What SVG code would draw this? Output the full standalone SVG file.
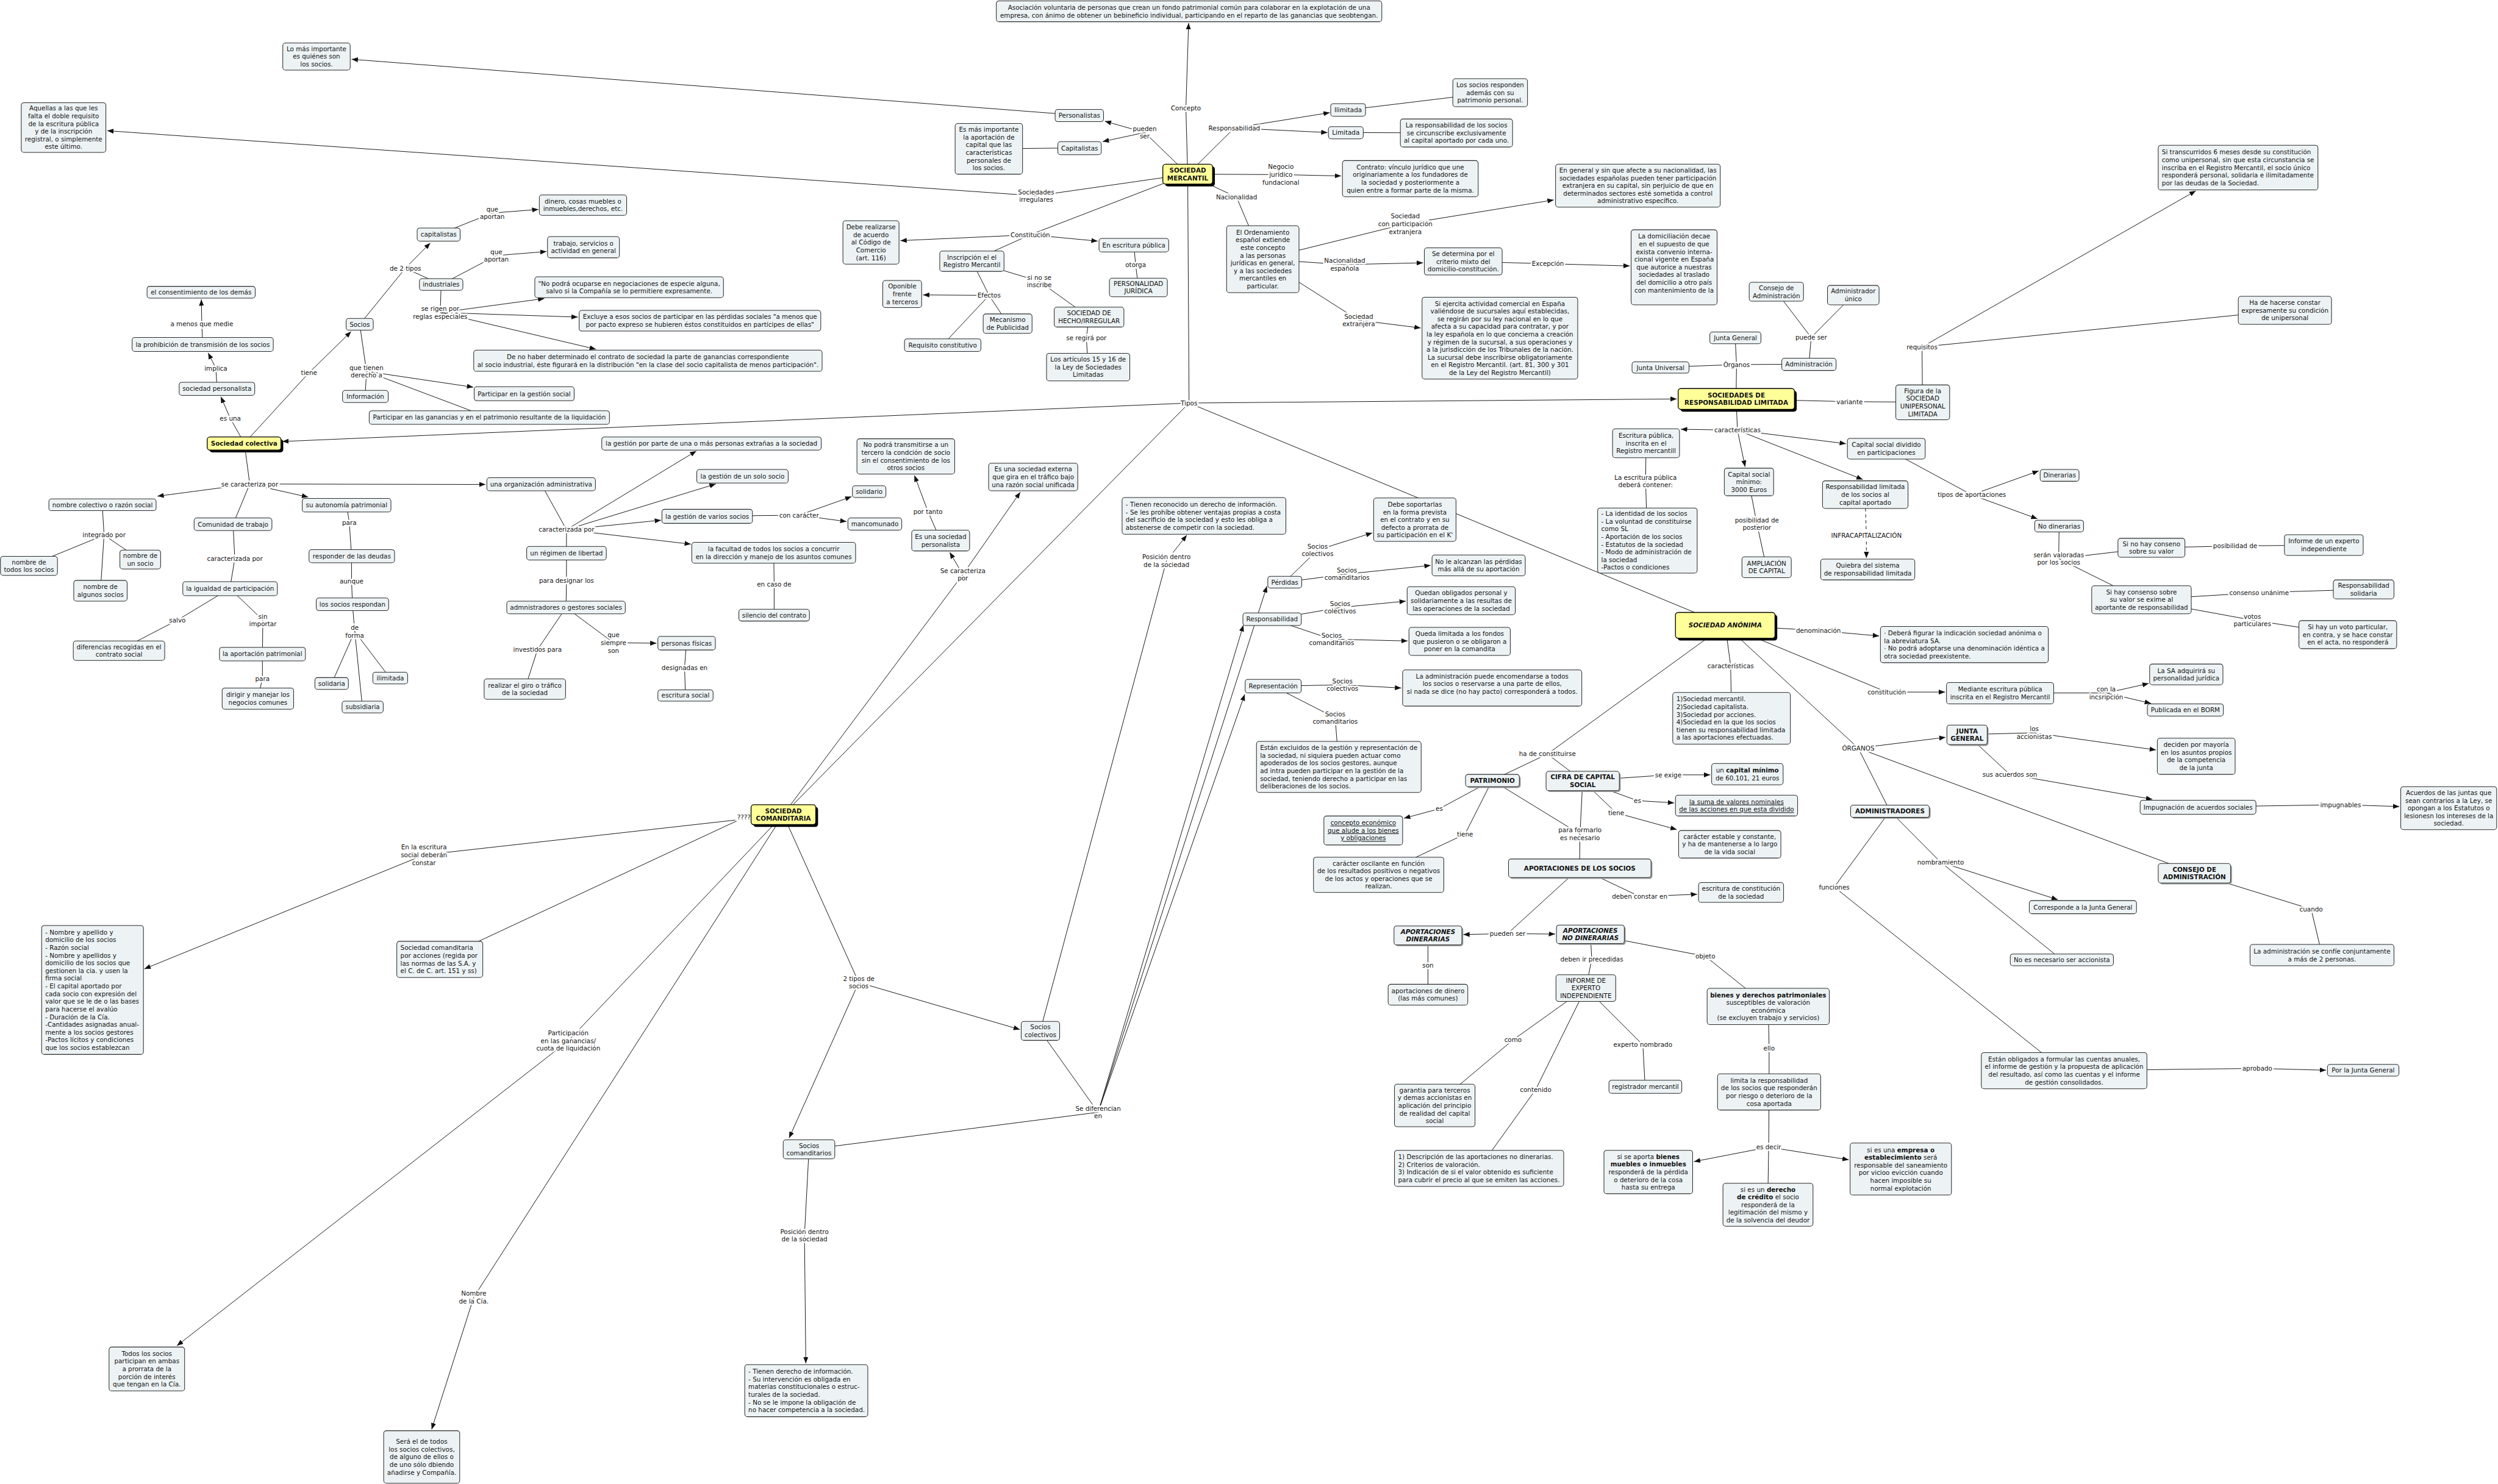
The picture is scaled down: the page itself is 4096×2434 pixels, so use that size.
<svg xmlns="http://www.w3.org/2000/svg" width="4096" height="2434" viewBox="0 0 4096 2434">
<defs>
<marker id="ar" viewBox="0 0 14 11" refX="14" refY="5.5" markerWidth="14" markerHeight="11" markerUnits="userSpaceOnUse" orient="auto"><path d="M0,0 L14,5.5 L0,11 z" fill="#111"/></marker>
<style>
.n{fill:#edf3f5;stroke:#2b2b2b;stroke-width:1.4}
.y{fill:#ffff99;stroke:#000;stroke-width:1.8}
.sh{fill:#000}
.sh2{fill:#9a9a9a}
text{font-family:"DejaVu Sans",Verdana,sans-serif;font-size:14px;fill:#111}
.c{text-anchor:middle}
.l{text-anchor:start}
.b{font-weight:bold}
.bi{font-weight:bold;font-style:italic}
.u{text-decoration:underline}
.lb{text-anchor:middle;stroke:#fff;stroke-width:7;stroke-linejoin:round;paint-order:stroke}
.e{fill:none;stroke:#111;stroke-width:1.3}
.a{fill:none;stroke:#111;stroke-width:1.3;marker-end:url(#ar)}
.d{fill:none;stroke:#111;stroke-width:1.3;stroke-dasharray:7 6}
.da{fill:none;stroke:#111;stroke-width:1.3;stroke-dasharray:7 6;marker-end:url(#ar)}
</style>
</defs>
<rect width="4096" height="2434" fill="#fff"/>
<g transform="scale(0.7419)">
<g id="connectors">
<path class="e" d="M540,980 L509,925"/><path class="a" d="M509,925 L488,877"/>
<path class="e" d="M480,860 L477,814"/><path class="a" d="M477,814 L460,780"/>
<path class="e" d="M448,761 L446,716"/><path class="a" d="M446,716 L445,662"/>
<path class="e" d="M540,980 L683,824"/><path class="a" d="M683,824 L776,733"/>
<path class="e" d="M795,717 L896,593 L975,629"/><path class="a" d="M896,593 L951,537"/>
<path class="e" d="M970,518 L1088,471"/><path class="a" d="M1088,471 L1190,463"/>
<path class="e" d="M975,629 L1097,565"/><path class="a" d="M1097,565 L1208,556"/>
<path class="e" d="M975,629 L973,691"/><path class="a" d="M973,691 L1203,660"/><path class="a" d="M973,691 L1277,701"/><path class="a" d="M973,691 L1317,772"/>
<path class="e" d="M795,717 L810,821 L1081,923"/><path class="e" d="M810,821 L807,876"/><path class="a" d="M810,821 L1046,856"/>
<path class="a" d="M2628,891 L624,976"/>
<path class="e" d="M540,980 L552,1070 L515,1159"/><path class="a" d="M552,1070 L1073,1071"/><path class="a" d="M552,1070 L348,1097"/><path class="a" d="M552,1070 L681,1099"/>
<path class="e" d="M226,1116 L230,1183 L64,1251 M230,1183 L310,1237 M230,1183 L222,1306"/>
<path class="e" d="M515,1159 L519,1235 L508,1301"/>
<path class="e" d="M508,1301 L392,1371 L263,1438"/>
<path class="e" d="M508,1301 L581,1371 L580,1446"/>
<path class="e" d="M580,1446 L580,1500 L570,1544"/>
<path class="e" d="M766,1117 L772,1155 L777,1229"/>
<path class="e" d="M777,1229 L777,1285 L779,1336"/>
<path class="e" d="M779,1336 L784,1396 L733,1511 M784,1396 L862,1499 M784,1396 L801,1563"/>
<path class="e" d="M1196,1070 L1252,1171 L1252,1223"/><path class="a" d="M1252,1171 L1539,997"/><path class="a" d="M1252,1171 L1582,1070"/><path class="a" d="M1252,1171 L1461,1150"/><path class="a" d="M1252,1171 L1527,1203"/>
<path class="e" d="M1252,1223 L1252,1283 L1251,1343"/>
<path class="e" d="M1251,1343 L1188,1436 L1160,1523"/>
<path class="e" d="M1251,1343 L1356,1421"/><path class="a" d="M1356,1421 L1451,1422"/>
<path class="e" d="M1517,1422 L1513,1476 L1515,1537"/>
<path class="e" d="M1563,1141 L1766,1139"/><path class="a" d="M1766,1139 L1882,1098"/><path class="a" d="M1766,1139 L1871,1153"/>
<path class="e" d="M1710,1222 L1711,1291 L1711,1360"/>
<path class="e" d="M2628,891 L1731,1801"/>
<path class="e" d="M1731,1801 L2128,1270"/><path class="a" d="M2128,1270 L2099,1221"/><path class="a" d="M2128,1270 L2255,1088"/>
<path class="e" d="M2079,1195 L2051,1131"/><path class="a" d="M2051,1131 L2021,1051"/>
<path class="e" d="M1625,1813 L937,1890"/><path class="a" d="M937,1890 L319,2142"/>
<path class="e" d="M1628,1815 L972,2121"/>
<path class="e" d="M1731,1801 L1256,2301"/><path class="a" d="M1256,2301 L391,2975"/>
<path class="e" d="M1731,1801 L1047,2868"/><path class="a" d="M1047,2868 L954,3160"/>
<path class="e" d="M1731,1801 L1898,2172"/><path class="a" d="M1898,2172 L2254,2276"/><path class="a" d="M1898,2172 L1744,2516"/>
<path class="e" d="M2299,2279 L2578,1240"/><path class="a" d="M2578,1240 L2623,1183"/>
<path class="e" d="M2299,2279 L2427,2459 L1788,2541"/><path class="a" d="M2427,2459 L2800,1296"/><path class="a" d="M2427,2459 L2748,1382"/><path class="a" d="M2427,2459 L2751,1535"/>
<path class="e" d="M1788,2541 L1778,2731"/><path class="a" d="M1778,2731 L1781,3014"/>
<path class="e" d="M2625,385 L2621,239"/><path class="a" d="M2621,239 L2627,51"/>
<path class="e" d="M2625,385 L2530,293"/><path class="a" d="M2530,293 L2442,268"/><path class="a" d="M2530,293 L2437,313"/>
<path class="a" d="M2385,255 L777,131"/>
<path class="e" d="M2185,329 L2386,327"/>
<path class="e" d="M2625,385 L2290,433"/><path class="a" d="M2290,433 L237,289"/>
<path class="e" d="M2625,385 L2728,283"/><path class="a" d="M2728,283 L2939,249"/><path class="a" d="M2728,283 L2934,293"/>
<path class="e" d="M2979,243 L3293,205 M2974,293 L3219,294"/>
<path class="e" d="M2625,385 L2831,386"/><path class="a" d="M2831,386 L2964,389"/>
<path class="e" d="M2625,385 L2733,436 L2791,573"/>
<path class="e" d="M2791,573 L3106,495"/><path class="a" d="M3106,495 L3434,442"/>
<path class="e" d="M2791,573 L2972,585"/><path class="a" d="M2972,585 L3145,581"/>
<path class="e" d="M3234,578 L3421,583"/><path class="a" d="M3421,583 L3602,588"/>
<path class="e" d="M2791,573 L3003,708"/><path class="a" d="M3003,708 L3140,725"/>
<path class="e" d="M2625,385 L2277,519 L2148,577"/><path class="a" d="M2277,519 L1990,532"/><path class="a" d="M2277,519 L2426,533"/>
<path class="e" d="M2506,542 L2510,586 L2516,635"/>
<path class="e" d="M2148,577 L2297,622 L2407,701"/>
<path class="e" d="M2407,701 L2401,747 L2405,811"/>
<path class="e" d="M2148,577 L2186,653 L2227,715 M2186,653 L2083,763"/><path class="a" d="M2186,653 L2040,652"/>
<path class="e" d="M2625,385 L2628,891"/>
<path class="a" d="M2628,891 L3706,882"/>
<path class="e" d="M2628,891 L3813,1382"/>
<path class="e" d="M3837,882 L3838,806 L3835,747 M3838,806 L3670,812 M3838,806 L3998,805"/>
<path class="e" d="M3998,805 L4003,746 L3926,645 M4003,746 L4096,652"/>
<path class="e" d="M3837,882 L4088,888 L4249,889"/>
<path class="e" d="M4249,889 L4248,767 L5050,686"/><path class="a" d="M4248,767 L4853,422"/>
<path class="e" d="M3837,882 L3840,951"/><path class="a" d="M3840,951 L3715,949"/><path class="a" d="M3840,951 L3857,1032"/><path class="a" d="M3840,951 L4080,981"/><path class="a" d="M3840,951 L4117,1060"/>
<path class="e" d="M3638,980 L3637,1064 L3641,1195"/>
<path class="e" d="M3865,1065 L3883,1158 L3904,1254"/>
<path class="d" d="M4123,1124 L4125,1184"/><path class="da" d="M4125,1184 L4125,1234"/>
<path class="e" d="M4169,992 L4358,1094"/><path class="a" d="M4358,1094 L4506,1041"/><path class="a" d="M4358,1094 L4503,1147"/>
<path class="e" d="M4551,1163 L4550,1235 L4755,1211 M4550,1235 L4733,1326"/>
<path class="e" d="M4755,1211 L4940,1207 L5136,1205"/>
<path class="e" d="M4733,1326 L4993,1310 L5224,1303"/>
<path class="e" d="M4733,1326 L4978,1371 L5189,1403"/>
<path class="e" d="M3813,1382 L4019,1394"/><path class="a" d="M4019,1394 L4153,1406"/>
<path class="e" d="M3813,1382 L4170,1530"/><path class="a" d="M4170,1530 L4299,1530"/>
<path class="e" d="M4420,1532 L4655,1532"/><path class="a" d="M4655,1532 L4749,1511"/><path class="a" d="M4655,1532 L4754,1555"/>
<path class="e" d="M3813,1382 L3825,1472 L3827,1588"/>
<path class="e" d="M3813,1382 L3420,1667 L3298,1725 M3420,1667 L3498,1726"/>
<path class="e" d="M3498,1726 L3687,1713"/><path class="a" d="M3687,1713 L3780,1713"/>
<path class="e" d="M3498,1726 L3619,1770"/><path class="a" d="M3619,1770 L3700,1775"/>
<path class="e" d="M3498,1726 L3572,1797"/><path class="a" d="M3572,1797 L3706,1834"/>
<path class="e" d="M3298,1725 L3181,1788"/><path class="a" d="M3181,1788 L3103,1809"/>
<path class="e" d="M3298,1725 L3238,1844 L3047,1934"/>
<path class="e" d="M3298,1725 L3492,1844 M3498,1726 L3492,1844 L3491,1919"/>
<path class="e" d="M3491,1919 L3624,1982"/><path class="a" d="M3624,1982 L3751,1977"/>
<path class="e" d="M3491,1919 L3332,2064"/><path class="a" d="M3332,2064 L3234,2066"/><path class="a" d="M3332,2064 L3437,2065"/>
<path class="e" d="M3156,2068 L3156,2134 L3156,2199"/>
<path class="e" d="M3515,2065 L3518,2121 L3505,2184"/>
<path class="e" d="M3515,2065 L3769,2114 L3908,2225"/>
<path class="e" d="M3908,2225 L3910,2318 L3910,2414"/>
<path class="e" d="M3910,2414 L3909,2536 L3907,2663"/><path class="a" d="M3909,2536 L3744,2568"/><path class="a" d="M3909,2536 L4086,2564"/>
<path class="e" d="M3505,2184 L3344,2299 L3171,2444"/>
<path class="e" d="M3505,2184 L3394,2409 L3269,2583"/>
<path class="e" d="M3505,2184 L3631,2310 L3636,2402"/>
<path class="e" d="M3813,1382 L4107,1654 L4177,1793 M4107,1654 L4850,1930"/><path class="a" d="M4107,1654 L4300,1630"/>
<path class="e" d="M4347,1624 L4496,1620"/><path class="a" d="M4496,1620 L4765,1658"/>
<path class="e" d="M4347,1624 L4442,1712"/><path class="a" d="M4442,1712 L4757,1767"/>
<path class="e" d="M4858,1784 L5173,1779"/><path class="a" d="M5173,1779 L5303,1783"/>
<path class="e" d="M4850,1930 L5108,2010 L5132,2111"/>
<path class="e" d="M4177,1793 L4289,1906 L4557,2122"/><path class="a" d="M4289,1906 L4548,1989"/>
<path class="e" d="M4177,1793 L4054,1961 L4562,2367"/>
<path class="e" d="M4562,2367 L4989,2362"/><path class="a" d="M4989,2362 L5141,2366"/>
<path class="e" d="M2839,1287 L2912,1216"/><path class="a" d="M2912,1216 L3033,1178"/>
<path class="e" d="M2839,1287 L2977,1269"/><path class="a" d="M2977,1269 L3162,1250"/>
<path class="e" d="M2811,1369 L2962,1343"/><path class="a" d="M2962,1343 L3107,1329"/>
<path class="e" d="M2811,1369 L2943,1413"/><path class="a" d="M2943,1413 L3111,1417"/>
<path class="e" d="M2814,1517 L2967,1514"/><path class="a" d="M2967,1514 L3097,1521"/>
<path class="e" d="M2814,1517 L2951,1587 L2959,1695"/>

<text class="lb" x="1088" y="467.5"><tspan x="1088">que</tspan><tspan x="1088" dy="17">aportan</tspan></text>
<text class="lb" x="1097" y="561.5"><tspan x="1097">que</tspan><tspan x="1097" dy="17">aportan</tspan></text>
<text class="lb" x="896" y="598">de 2 tipos</text>
<text class="lb" x="446" y="721">a menos que medie</text>
<text class="lb" x="477" y="819">implica</text>
<text class="lb" x="509" y="930">es una</text>
<text class="lb" x="683" y="829">tiene</text>
<text class="lb" x="973" y="687.5"><tspan x="973">se rigen por</tspan><tspan x="973" dy="17">reglas especiales</tspan></text>
<text class="lb" x="810" y="817.5"><tspan x="810">que tienen</tspan><tspan x="810" dy="17">derecho a</tspan></text>
<text class="lb" x="552" y="1075">se caracteriza por</text>
<text class="lb" x="230" y="1188">integrado por</text>
<text class="lb" x="519" y="1240">caracterizada por</text>
<text class="lb" x="392" y="1376">salvo</text>
<text class="lb" x="581" y="1367.5"><tspan x="581">sin</tspan><tspan x="581" dy="17">importar</tspan></text>
<text class="lb" x="580" y="1505">para</text>
<text class="lb" x="772" y="1160">para</text>
<text class="lb" x="777" y="1290">aunque</text>
<text class="lb" x="784" y="1392.5"><tspan x="784">de</tspan><tspan x="784" dy="17">forma</tspan></text>
<text class="lb" x="1252" y="1176">caracterizada por</text>
<text class="lb" x="1252" y="1288">para designar los</text>
<text class="lb" x="1188" y="1441">investidos para</text>
<text class="lb" x="1356" y="1409"><tspan x="1356">que</tspan><tspan x="1356" dy="17">siempre</tspan><tspan x="1356" dy="17">son</tspan></text>
<text class="lb" x="937" y="1878"><tspan x="937">En la escritura</tspan><tspan x="937" dy="17">social deberán</tspan><tspan x="937" dy="17">constar</tspan></text>
<text class="lb" x="1256" y="2289"><tspan x="1256">Participación</tspan><tspan x="1256" dy="17">en las ganancias/</tspan><tspan x="1256" dy="17">cuota de liquidación</tspan></text>
<text class="lb" x="1047" y="2864.5"><tspan x="1047">Nombre</tspan><tspan x="1047" dy="17">de la Cía.</tspan></text>
<text class="lb" x="2621" y="244">Concepto</text>
<text class="lb" x="2530" y="289.5"><tspan x="2530">pueden</tspan><tspan x="2530" dy="17">ser</tspan></text>
<text class="lb" x="2290" y="429.5"><tspan x="2290">Sociedades</tspan><tspan x="2290" dy="17">irregulares</tspan></text>
<text class="lb" x="2733" y="441">Nacionalidad</text>
<text class="lb" x="2728" y="288">Responsabilidad</text>
<text class="lb" x="2277" y="524">Constitución</text>
<text class="lb" x="2510" y="591">otorga</text>
<text class="lb" x="2297" y="618.5"><tspan x="2297">si no se</tspan><tspan x="2297" dy="17">inscribe</tspan></text>
<text class="lb" x="2401" y="752">se regirá por</text>
<text class="lb" x="2186" y="658">Efectos</text>
<text class="lb" x="2628" y="896">Tipos</text>
<text class="lb" x="1766" y="1144">con carácter</text>
<text class="lb" x="1711" y="1296">en caso de</text>
<text class="lb" x="1513" y="1481">designadas en</text>
<text class="lb" x="2051" y="1136">por tanto</text>
<text class="lb" x="2128" y="1266.5"><tspan x="2128">Se caracteriza</tspan><tspan x="2128" dy="17">por</tspan></text>
<text class="lb" x="1644" y="1811">????</text>
<text class="lb" x="2578" y="1236.5"><tspan x="2578">Posición dentro</tspan><tspan x="2578" dy="17">de la sociedad</tspan></text>
<text class="lb" x="1898" y="2168.5"><tspan x="1898">2 tipos de</tspan><tspan x="1898" dy="17">socios</tspan></text>
<text class="lb" x="2427" y="2455.5"><tspan x="2427">Se diferencian</tspan><tspan x="2427" dy="17">en</tspan></text>
<text class="lb" x="1778" y="2727.5"><tspan x="1778">Posición dentro</tspan><tspan x="1778" dy="17">de la sociedad</tspan></text>
<text class="lb" x="2831" y="374"><tspan x="2831">Negocio</tspan><tspan x="2831" dy="17">jurídico</tspan><tspan x="2831" dy="17">fundacional</tspan></text>
<text class="lb" x="3106" y="483"><tspan x="3106">Sociedad</tspan><tspan x="3106" dy="17">con participación</tspan><tspan x="3106" dy="17">extranjera</tspan></text>
<text class="lb" x="2972" y="581.5"><tspan x="2972">Nacionalidad</tspan><tspan x="2972" dy="17">española</tspan></text>
<text class="lb" x="3421" y="588">Excepción</text>
<text class="lb" x="3003" y="704.5"><tspan x="3003">Sociedad</tspan><tspan x="3003" dy="17">extranjera</tspan></text>
<text class="lb" x="4003" y="751">puede ser</text>
<text class="lb" x="3838" y="811">Órganos</text>
<text class="lb" x="4088" y="893">variante</text>
<text class="lb" x="3840" y="956">características</text>
<text class="lb" x="3637" y="1060.5"><tspan x="3637">La escritura pública</tspan><tspan x="3637" dy="17">deberá contener:</tspan></text>
<text class="lb" x="3883" y="1154.5"><tspan x="3883">posibilidad de</tspan><tspan x="3883" dy="17">posterior</tspan></text>
<text class="lb" x="4248" y="772">requisitos</text>
<text class="lb" x="4358" y="1099">tipos de aportaciones</text>
<text class="lb" x="4550" y="1231.5"><tspan x="4550">serán valoradas</tspan><tspan x="4550" dy="17">por los socios</tspan></text>
<text class="lb" x="4940" y="1212">posibilidad de</text>
<text class="lb" x="4993" y="1315">consenso unánime</text>
<text class="lb" x="4978" y="1367.5"><tspan x="4978">votos</tspan><tspan x="4978" dy="17">particulares</tspan></text>
<text class="lb" x="4125" y="1189">INFRACAPITALIZACIÓN</text>
<text class="lb" x="4019" y="1399">denominación</text>
<text class="lb" x="4170" y="1535">constitución</text>
<text class="lb" x="4655" y="1528.5"><tspan x="4655">con la</tspan><tspan x="4655" dy="17">incsripción</tspan></text>
<text class="lb" x="4107" y="1659">ÓRGANOS</text>
<text class="lb" x="4496" y="1616.5"><tspan x="4496">los</tspan><tspan x="4496" dy="17">accionistas</tspan></text>
<text class="lb" x="4442" y="1717">sus acuerdos son</text>
<text class="lb" x="5173" y="1784">impugnables</text>
<text class="lb" x="5108" y="2015">cuando</text>
<text class="lb" x="4289" y="1911">nombramiento</text>
<text class="lb" x="4054" y="1966">funciones</text>
<text class="lb" x="4989" y="2367">aprobado</text>
<text class="lb" x="2912" y="1212.5"><tspan x="2912">Socios</tspan><tspan x="2912" dy="17">colectivos</tspan></text>
<text class="lb" x="2977" y="1265.5"><tspan x="2977">Socios</tspan><tspan x="2977" dy="17">comanditarios</tspan></text>
<text class="lb" x="2962" y="1339.5"><tspan x="2962">Socios</tspan><tspan x="2962" dy="17">colectivos</tspan></text>
<text class="lb" x="2943" y="1409.5"><tspan x="2943">Socios</tspan><tspan x="2943" dy="17">comanditarios</tspan></text>
<text class="lb" x="2967" y="1510.5"><tspan x="2967">Socios</tspan><tspan x="2967" dy="17">colectivos</tspan></text>
<text class="lb" x="2951" y="1583.5"><tspan x="2951">Socios</tspan><tspan x="2951" dy="17">comanditarios</tspan></text>
<text class="lb" x="3825" y="1477">características</text>
<text class="lb" x="3420" y="1672">ha de constituirse</text>
<text class="lb" x="3687" y="1718">se exige</text>
<text class="lb" x="3619" y="1775">es</text>
<text class="lb" x="3572" y="1802">tiene</text>
<text class="lb" x="3181" y="1793">es</text>
<text class="lb" x="3238" y="1849">tiene</text>
<text class="lb" x="3492" y="1840.5"><tspan x="3492">para formarlo</tspan><tspan x="3492" dy="17">es necesario</tspan></text>
<text class="lb" x="3624" y="1987">deben constar en</text>
<text class="lb" x="3332" y="2069">pueden ser</text>
<text class="lb" x="3156" y="2139">son</text>
<text class="lb" x="3518" y="2126">deben ir precedidas</text>
<text class="lb" x="3769" y="2119">objeto</text>
<text class="lb" x="3910" y="2323">ello</text>
<text class="lb" x="3909" y="2541">es decir</text>
<text class="lb" x="3344" y="2304">como</text>
<text class="lb" x="3394" y="2414">contenido</text>
<text class="lb" x="3631" y="2315">experto nombrado</text>
</g>

<g id="n1"><rect class="n" x="625" y="95" width="149" height="60" rx="6"/><text class="c" x="699.5" y="113"><tspan x="699.5">Lo más importante</tspan><tspan x="699.5" dy="17">es quiénes son</tspan><tspan x="699.5" dy="17">los socios.</tspan></text></g>
<g id="n2"><rect class="n" x="47" y="227" width="187" height="110" rx="6"/><text class="c" x="140.5" y="244.5"><tspan x="140.5">Aquellas a las que les</tspan><tspan x="140.5" dy="17">falta el doble requisito</tspan><tspan x="140.5" dy="17">de la escritura pública</tspan><tspan x="140.5" dy="17">y de la inscripción</tspan><tspan x="140.5" dy="17">registral, o simplemente</tspan><tspan x="140.5" dy="17">este último.</tspan></text></g>
<g id="n3"><rect class="n" x="1192" y="431" width="193" height="45" rx="6"/><text class="c" x="1288.5" y="450"><tspan x="1288.5">dinero, cosas muebles o</tspan><tspan x="1288.5" dy="17">inmuebles,derechos, etc.</tspan></text></g>
<g id="n4"><rect class="n" x="922" y="504" width="95" height="29" rx="6"/><text class="c" x="969.5" y="523.5">capitalistas</text></g>
<g id="n5"><rect class="n" x="1210" y="523" width="159" height="47" rx="6"/><text class="c" x="1289.5" y="543"><tspan x="1289.5">trabajo, servicios o</tspan><tspan x="1289.5" dy="17">actividad en general</tspan></text></g>
<g id="n6"><rect class="n" x="927" y="616" width="96" height="26" rx="6"/><text class="c" x="975" y="634">industriales</text></g>
<g id="n7"><rect class="n" x="325" y="633" width="239" height="26" rx="6"/><text class="c" x="444.5" y="651">el consentimiento de los demás</text></g>
<g id="n8"><rect class="n" x="292" y="746" width="312" height="31" rx="6"/><text class="c" x="448" y="766.5">la prohibición de transmisión de los socios</text></g>
<g id="n9"><rect class="n" x="396" y="845" width="167" height="29" rx="6"/><text class="c" x="479.5" y="864.5">sociedad personalista</text></g>
<g id="n10"><rect class="sh" x="463" y="971" width="163" height="29" rx="6"/><rect class="y" x="458" y="966" width="163" height="29" rx="6"/><text class="c b" x="539.5" y="985.5">Sociedad colectiva</text></g>
<g id="n11"><rect class="n" x="765" y="704" width="60" height="26" rx="6"/><text class="c" x="795" y="722">Socios</text></g>
<g id="n12"><rect class="n" x="1182" y="612" width="417" height="46" rx="6"/><text class="c" x="1390.5" y="631.5"><tspan x="1390.5">"No podrá ocuparse en negociaciones de especie alguna,</tspan><tspan x="1390.5" dy="17">salvo si la Compañía se lo permitiere expresamente.</tspan></text></g>
<g id="n13"><rect class="n" x="1280" y="686" width="534" height="46" rx="6"/><text class="c" x="1547" y="705.5"><tspan x="1547">Excluye a esos socios de participar en las pérdidas sociales "a menos que</tspan><tspan x="1547" dy="17">por pacto expreso se hubieren éstos constituidos en partícipes de ellas"</tspan></text></g>
<g id="n14"><rect class="n" x="1047" y="774" width="770" height="47" rx="6"/><text class="c" x="1432" y="794"><tspan x="1432">De no haber determinado el contrato de sociedad la parte de ganancias correspondiente</tspan><tspan x="1432" dy="17">al socio industrial, éste figurará en la distribución "en la clase del socio capitalista de menos participación".</tspan></text></g>
<g id="n15"><rect class="n" x="757" y="863" width="101" height="27" rx="6"/><text class="c" x="807.5" y="881.5">Información</text></g>
<g id="n16"><rect class="n" x="1048" y="855" width="221" height="31" rx="6"/><text class="c" x="1158.5" y="875.5">Participar en la gestión social</text></g>
<g id="n17"><rect class="n" x="816" y="908" width="531" height="30" rx="6"/><text class="c" x="1081.5" y="928">Participar en las ganancias y en el patrimonio resultante de la liquidación</text></g>
<g id="n18"><rect class="n" x="1330" y="966" width="485" height="29" rx="6"/><text class="c" x="1572.5" y="985.5">la gestión por parte de una o más personas extrañas a la sociedad</text></g>
<g id="n19"><rect class="n" x="1076" y="1056" width="240" height="29" rx="6"/><text class="c" x="1196" y="1075.5">una organización administrativa</text></g>
<g id="n20"><rect class="n" x="108" y="1103" width="237" height="26" rx="6"/><text class="c" x="226.5" y="1121">nombre colectivo o razón social</text></g>
<g id="n21"><rect class="n" x="429" y="1145" width="172" height="28" rx="6"/><text class="c" x="515" y="1164">Comunidad de trabajo</text></g>
<g id="n22"><rect class="n" x="668" y="1102" width="196" height="30" rx="6"/><text class="c" x="766" y="1122">su autonomía patrimonial</text></g>
<g id="n23"><rect class="n" x="1" y="1230" width="126" height="42" rx="6"/><text class="c" x="64" y="1247.5"><tspan x="64">nombre de</tspan><tspan x="64" dy="17">todos los socios</tspan></text></g>
<g id="n24"><rect class="n" x="265" y="1216" width="90" height="42" rx="6"/><text class="c" x="310" y="1233.5"><tspan x="310">nombre de</tspan><tspan x="310" dy="17">un socio</tspan></text></g>
<g id="n25"><rect class="n" x="163" y="1283" width="118" height="46" rx="6"/><text class="c" x="222" y="1302.5"><tspan x="222">nombre de</tspan><tspan x="222" dy="17">algunos socios</tspan></text></g>
<g id="n26"><rect class="n" x="404" y="1286" width="209" height="31" rx="6"/><text class="c" x="508.5" y="1306.5">la igualdad de participación</text></g>
<g id="n27"><rect class="n" x="162" y="1417" width="202" height="43" rx="6"/><text class="c" x="263" y="1435"><tspan x="263">diferencias recogidas en el</tspan><tspan x="263" dy="17">contrato social</tspan></text></g>
<g id="n28"><rect class="n" x="485" y="1431" width="190" height="30" rx="6"/><text class="c" x="580" y="1451">la aportación patrimonial</text></g>
<g id="n29"><rect class="n" x="491" y="1521" width="158" height="47" rx="6"/><text class="c" x="570" y="1541"><tspan x="570">dirigir y manejar los</tspan><tspan x="570" dy="17">negocios comunes</tspan></text></g>
<g id="n30"><rect class="n" x="683" y="1215" width="189" height="29" rx="6"/><text class="c" x="777.5" y="1234.5">responder de las deudas</text></g>
<g id="n31"><rect class="n" x="699" y="1322" width="160" height="28" rx="6"/><text class="c" x="779" y="1341">los socios respondan</text></g>
<g id="n32"><rect class="n" x="696" y="1498" width="74" height="26" rx="6"/><text class="c" x="733" y="1516">solidaria</text></g>
<g id="n33"><rect class="n" x="824" y="1486" width="77" height="26" rx="6"/><text class="c" x="862.5" y="1504">ilimitada</text></g>
<g id="n34"><rect class="n" x="756" y="1550" width="91" height="26" rx="6"/><text class="c" x="801.5" y="1568">subsidiaria</text></g>
<g id="n35"><rect class="n" x="1164" y="1208" width="176" height="30" rx="6"/><text class="c" x="1252" y="1228">un régimen de libertad</text></g>
<g id="n36"><rect class="n" x="1120" y="1329" width="262" height="28" rx="6"/><text class="c" x="1251" y="1348">admnistradores o gestores sociales</text></g>
<g id="n37"><rect class="n" x="1070" y="1501" width="180" height="45" rx="6"/><text class="c" x="1160" y="1520"><tspan x="1160">realizar el giro o tráfico</tspan><tspan x="1160" dy="17">de la sociedad</tspan></text></g>
<g id="n38"><rect class="n" x="92" y="2046" width="225" height="285" rx="6"/><text class="l" x="100" y="2066"><tspan x="100">- Nombre y apellido y</tspan><tspan x="100" dy="17">domicilio de los socios</tspan><tspan x="100" dy="17">- Razón social</tspan><tspan x="100" dy="17">- Nombre y apellidos y</tspan><tspan x="100" dy="17">domicilio de los socios que</tspan><tspan x="100" dy="17">gestionen la cia. y usen la</tspan><tspan x="100" dy="17">firma social</tspan><tspan x="100" dy="17">- El capital aportado por</tspan><tspan x="100" dy="17">cada socio con expresión del</tspan><tspan x="100" dy="17">valor que se le de o las bases</tspan><tspan x="100" dy="17">para hacerse el avalúo</tspan><tspan x="100" dy="17">- Duración de la Cía.</tspan><tspan x="100" dy="17">-Cantidades asignadas anual-</tspan><tspan x="100" dy="17">mente a los socios gestores</tspan><tspan x="100" dy="17">-Pactos lícitos y condiciones</tspan><tspan x="100" dy="17">que los socios establezcan</tspan></text></g>
<g id="n39"><rect class="n" x="877" y="2081" width="190" height="80" rx="6"/><text class="l" x="885" y="2100.5"><tspan x="885">Sociedad comanditaria</tspan><tspan x="885" dy="17">por acciones (regida por</tspan><tspan x="885" dy="17">las normas de las S.A. y</tspan><tspan x="885" dy="17">el C. de C. art. 151 y ss)</tspan></text></g>
<g id="n40"><rect class="n" x="241" y="2978" width="167" height="97" rx="6"/><text class="c" x="324.5" y="2997.5"><tspan x="324.5">Todos los socios</tspan><tspan x="324.5" dy="17">participan en ambas</tspan><tspan x="324.5" dy="17">a prorrata de la</tspan><tspan x="324.5" dy="17">porción de interés</tspan><tspan x="324.5" dy="17">que tengan en la Cía.</tspan></text></g>
<g id="n41"><rect class="n" x="848" y="3163" width="168" height="116" rx="6"/><text class="c" x="932" y="3192"><tspan x="932">Será el de todos</tspan><tspan x="932" dy="17">los socios colectivos,</tspan><tspan x="932" dy="17">de alguno de ellos o</tspan><tspan x="932" dy="17">de uno sólo dbiendo</tspan><tspan x="932" dy="17">añadirse y Compañía.</tspan></text></g>
<g id="n42"><rect class="n" x="2202" y="2" width="852" height="46" rx="6"/><text class="c" x="2628" y="21.5"><tspan x="2628">Asociación voluntaria de personas que crean un fondo patrimonial común para colaborar en la explotación de una</tspan><tspan x="2628" dy="17">empresa, con ánimo de obtener un bebineficio individual, participando en el reparto de las ganancias que seobtengan.</tspan></text></g>
<g id="n43"><rect class="n" x="2332" y="242" width="107" height="27" rx="6"/><text class="c" x="2385.5" y="260.5">Personalistas</text></g>
<g id="n44"><rect class="n" x="2338" y="313" width="96" height="29" rx="6"/><text class="c" x="2386" y="332.5">Capitalistas</text></g>
<g id="n45"><rect class="n" x="2111" y="273" width="149" height="112" rx="6"/><text class="c" x="2185.5" y="291.5"><tspan x="2185.5">Es más importante</tspan><tspan x="2185.5" dy="17">la aportación de</tspan><tspan x="2185.5" dy="17">capital que las</tspan><tspan x="2185.5" dy="17">características</tspan><tspan x="2185.5" dy="17">personales de</tspan><tspan x="2185.5" dy="17">los socios.</tspan></text></g>
<g id="n46"><rect class="sh" x="2575" y="368" width="110" height="44" rx="6"/><rect class="y" x="2570" y="363" width="110" height="44" rx="6"/><text class="c b" x="2625" y="381.5"><tspan x="2625">SOCIEDAD</tspan><tspan x="2625" dy="17">MERCANTIL</tspan></text></g>
<g id="n47"><rect class="n" x="1863" y="488" width="124" height="96" rx="6"/><text class="c" x="1925" y="507"><tspan x="1925">Debe realizarse</tspan><tspan x="1925" dy="17">de acuerdo</tspan><tspan x="1925" dy="17">al Código de</tspan><tspan x="1925" dy="17">Comercio</tspan><tspan x="1925" dy="17">(art. 116)</tspan></text></g>
<g id="n48"><rect class="n" x="2429" y="527" width="154" height="30" rx="6"/><text class="c" x="2506" y="547">En escritura pública</text></g>
<g id="n49"><rect class="n" x="2452" y="615" width="128" height="41" rx="6"/><text class="c" x="2516" y="632"><tspan x="2516">PERSONALIDAD</tspan><tspan x="2516" dy="17">JURÍDICA</tspan></text></g>
<g id="n50"><rect class="n" x="2077" y="555" width="142" height="45" rx="6"/><text class="c" x="2148" y="574"><tspan x="2148">Inscripción el el</tspan><tspan x="2148" dy="17">Registro Mercantil</tspan></text></g>
<g id="n51"><rect class="n" x="2330" y="679" width="154" height="44" rx="6"/><text class="c" x="2407" y="697.5"><tspan x="2407">SOCIEDAD DE</tspan><tspan x="2407" dy="17">HECHO/IRREGULAR</tspan></text></g>
<g id="n52"><rect class="n" x="2313" y="781" width="184" height="61" rx="6"/><text class="c" x="2405" y="799.5"><tspan x="2405">Los artículos 15 y 16 de</tspan><tspan x="2405" dy="17">la Ley de Sociedades</tspan><tspan x="2405" dy="17">Limitadas</tspan></text></g>
<g id="n53"><rect class="n" x="1951" y="620" width="86" height="60" rx="6"/><text class="c" x="1994" y="638"><tspan x="1994">Oponible</tspan><tspan x="1994" dy="17">frente</tspan><tspan x="1994" dy="17">a terceros</tspan></text></g>
<g id="n54"><rect class="n" x="2173" y="694" width="108" height="43" rx="6"/><text class="c" x="2227" y="712"><tspan x="2227">Mecanismo</tspan><tspan x="2227" dy="17">de Publicidad</tspan></text></g>
<g id="n55"><rect class="n" x="1999" y="749" width="169" height="28" rx="6"/><text class="c" x="2083.5" y="768">Requisito constitutivo</text></g>
<g id="n56"><rect class="n" x="1894" y="970" width="216" height="78" rx="6"/><text class="c" x="2002" y="988.5"><tspan x="2002">No podrá transmitirse a un</tspan><tspan x="2002" dy="17">tercero la condción de socio</tspan><tspan x="2002" dy="17">sin el consentimiento de los</tspan><tspan x="2002" dy="17">otros socios</tspan></text></g>
<g id="n57"><rect class="n" x="2185" y="1024" width="197" height="61" rx="6"/><text class="c" x="2283.5" y="1042.5"><tspan x="2283.5">Es una sociedad externa</tspan><tspan x="2283.5" dy="17">que gira en el tráfico bajo</tspan><tspan x="2283.5" dy="17">una razón social unificada</tspan></text></g>
<g id="n58"><rect class="n" x="1540" y="1038" width="202" height="30" rx="6"/><text class="c" x="1641" y="1058">la gestión de un solo socio</text></g>
<g id="n59"><rect class="n" x="1884" y="1074" width="74" height="26" rx="6"/><text class="c" x="1921" y="1092">solidario</text></g>
<g id="n60"><rect class="n" x="1463" y="1126" width="200" height="31" rx="6"/><text class="c" x="1563" y="1146.5">la gestión de varios socios</text></g>
<g id="n61"><rect class="n" x="1874" y="1145" width="119" height="27" rx="6"/><text class="c" x="1933.5" y="1163.5">mancomunado</text></g>
<g id="n62"><rect class="n" x="1529" y="1199" width="362" height="46" rx="6"/><text class="c" x="1710" y="1218.5"><tspan x="1710">la facultad de todos los socios a concurrir</tspan><tspan x="1710" dy="17">en la dirección y manejo de los asuntos comunes</tspan></text></g>
<g id="n63"><rect class="n" x="1633" y="1347" width="156" height="26" rx="6"/><text class="c" x="1711" y="1365">silencio del contrato</text></g>
<g id="n64"><rect class="n" x="1454" y="1407" width="127" height="30" rx="6"/><text class="c" x="1517.5" y="1427">personas físicas</text></g>
<g id="n65"><rect class="n" x="1454" y="1525" width="122" height="25" rx="6"/><text class="c" x="1515" y="1542.5">escritura social</text></g>
<g id="n66"><rect class="n" x="2015" y="1172" width="128" height="46" rx="6"/><text class="c" x="2079" y="1191.5"><tspan x="2079">Es una sociedad</tspan><tspan x="2079" dy="17">personalista</tspan></text></g>
<g id="n67"><rect class="sh" x="1665" y="1784" width="143" height="44" rx="6"/><rect class="y" x="1660" y="1779" width="143" height="44" rx="6"/><text class="c b" x="1731.5" y="1797.5"><tspan x="1731.5">SOCIEDAD</tspan><tspan x="1731.5" dy="17">COMANDITARIA</tspan></text></g>
<g id="n68"><rect class="n" x="2480" y="1100" width="362" height="81" rx="6"/><text class="l" x="2488" y="1120"><tspan x="2488">- Tienen reconocido un derecho de información.</tspan><tspan x="2488" dy="17">- Se les prohíbe obtener ventajas propias a costa</tspan><tspan x="2488" dy="17">del sacrificio de la sociedad y esto les obliga a</tspan><tspan x="2488" dy="17">abstenerse de competir con la sociedad.</tspan></text></g>
<g id="n69"><rect class="n" x="2257" y="2258" width="85" height="42" rx="6"/><text class="c" x="2299.5" y="2275.5"><tspan x="2299.5">Socios</tspan><tspan x="2299.5" dy="17">colectivos</tspan></text></g>
<g id="n70"><rect class="n" x="1731" y="2520" width="114" height="42" rx="6"/><text class="c" x="1788" y="2537.5"><tspan x="1788">Socios</tspan><tspan x="1788" dy="17">comanditarios</tspan></text></g>
<g id="n71"><rect class="n" x="1646" y="3017" width="272" height="115" rx="6"/><text class="l" x="1654" y="3037"><tspan x="1654">- Tienen derecho de información.</tspan><tspan x="1654" dy="17">- Su intervención es obligada en</tspan><tspan x="1654" dy="17">materias constitucionales o estruc-</tspan><tspan x="1654" dy="17">turales de la sociedad.</tspan><tspan x="1654" dy="17">- No se le impone la obligación de</tspan><tspan x="1654" dy="17">no hacer competencia a la sociedad.</tspan></text></g>
<g id="n72"><rect class="n" x="2941" y="229" width="77" height="28" rx="6"/><text class="c" x="2979.5" y="248">Ilimitada</text></g>
<g id="n73"><rect class="n" x="2936" y="280" width="77" height="27" rx="6"/><text class="c" x="2974.5" y="298.5">Limitada</text></g>
<g id="n74"><rect class="n" x="3211" y="174" width="165" height="62" rx="6"/><text class="c" x="3293.5" y="193"><tspan x="3293.5">Los socios responden</tspan><tspan x="3293.5" dy="17">además con su</tspan><tspan x="3293.5" dy="17">patrimonio personal.</tspan></text></g>
<g id="n75"><rect class="n" x="3095" y="263" width="248" height="62" rx="6"/><text class="c" x="3219" y="282"><tspan x="3219">La responsabilidad de los socios</tspan><tspan x="3219" dy="17">se circunscribe exclusivamente</tspan><tspan x="3219" dy="17">al capital aportado por cada uno.</tspan></text></g>
<g id="n76"><rect class="n" x="2967" y="355" width="300" height="80" rx="6"/><text class="c" x="3117" y="374.5"><tspan x="3117">Contrato: vínculo jurídico que une</tspan><tspan x="3117" dy="17">originariamente a los fundadores de</tspan><tspan x="3117" dy="17">la sociedad y  posteriormente a</tspan><tspan x="3117" dy="17">quien entre a formar parte de la misma.</tspan></text></g>
<g id="n77"><rect class="n" x="3438" y="363" width="364" height="95" rx="6"/><text class="c" x="3620" y="381.5"><tspan x="3620">En general y sin que afecte a su nacionalidad, las</tspan><tspan x="3620" dy="17">sociedades españolas pueden tener participación</tspan><tspan x="3620" dy="17">extranjera en su capital, sin perjuicio de que en</tspan><tspan x="3620" dy="17">determinados sectores esté sometida a control</tspan><tspan x="3620" dy="17">administrativo específico.</tspan></text></g>
<g id="n78"><rect class="n" x="2711" y="499" width="160" height="148" rx="6"/><text class="c" x="2791" y="518.5"><tspan x="2791">El Ordenamiento</tspan><tspan x="2791" dy="17">español extiende</tspan><tspan x="2791" dy="17">este concepto</tspan><tspan x="2791" dy="17">a las personas</tspan><tspan x="2791" dy="17">jurídicas en general,</tspan><tspan x="2791" dy="17">y a las sociededes</tspan><tspan x="2791" dy="17">mercantiles en</tspan><tspan x="2791" dy="17">particular.</tspan></text></g>
<g id="n79"><rect class="n" x="3148" y="548" width="172" height="60" rx="6"/><text class="c" x="3234" y="566"><tspan x="3234">Se determina por el</tspan><tspan x="3234" dy="17">criterio mixto del</tspan><tspan x="3234" dy="17">domicilio-constitución.</tspan></text></g>
<g id="n80"><rect class="n" x="3605" y="508" width="190" height="166" rx="6"/><text class="c" x="3700" y="527.5"><tspan x="3700">La domiciliación decae</tspan><tspan x="3700" dy="17">en el supuesto de que</tspan><tspan x="3700" dy="17">exista convenio interna-</tspan><tspan x="3700" dy="17">cional vigente en España</tspan><tspan x="3700" dy="17">que autorice a nuestras</tspan><tspan x="3700" dy="17">sociedades al traslado</tspan><tspan x="3700" dy="17">del domicilio a otro país</tspan><tspan x="3700" dy="17">con mantenimiento de la</tspan></text></g>
<g id="n81"><rect class="n" x="3143" y="657" width="344" height="181" rx="6"/><text class="c" x="3315" y="676"><tspan x="3315">Si ejercita actividad comercial en España</tspan><tspan x="3315" dy="17">valiéndose de sucursales aquí establecidas,</tspan><tspan x="3315" dy="17">se regirán por su ley nacional en lo que</tspan><tspan x="3315" dy="17">afecta a su capacidad para contratar, y por</tspan><tspan x="3315" dy="17">la ley española en lo que concierna a creación</tspan><tspan x="3315" dy="17">y régimen de la sucursal, a sus operaciones y</tspan><tspan x="3315" dy="17">a la jurisdicción de los Tribunales de la nación.</tspan><tspan x="3315" dy="17">La sucursal debe inscribirse obligatoriamente</tspan><tspan x="3315" dy="17">en el Registro Mercantil. (art. 81, 300 y 301</tspan><tspan x="3315" dy="17">de la Ley del Registro Mercantil)</tspan></text></g>
<g id="n82"><rect class="n" x="3866" y="624" width="120" height="42" rx="6"/><text class="c" x="3926" y="641.5"><tspan x="3926">Consejo de</tspan><tspan x="3926" dy="17">Administración</tspan></text></g>
<g id="n83"><rect class="n" x="4039" y="631" width="114" height="43" rx="6"/><text class="c" x="4096" y="649"><tspan x="4096">Administrador</tspan><tspan x="4096" dy="17">único</tspan></text></g>
<g id="n84"><rect class="n" x="3779" y="734" width="113" height="26" rx="6"/><text class="c" x="3835.5" y="752">Junta General</text></g>
<g id="n85"><rect class="n" x="3607" y="800" width="126" height="25" rx="6"/><text class="c" x="3670" y="817.5">Junta Universal</text></g>
<g id="n86"><rect class="n" x="3938" y="792" width="120" height="27" rx="6"/><text class="c" x="3998" y="810.5">Administración</text></g>
<g id="n87"><rect class="sh" x="3714" y="864" width="257" height="46" rx="6"/><rect class="y" x="3709" y="859" width="257" height="46" rx="6"/><text class="c b" x="3837.5" y="878.5"><tspan x="3837.5">SOCIEDADES DE</tspan><tspan x="3837.5" dy="17">RESPONSABILIDAD LIMITADA</tspan></text></g>
<g id="n88"><rect class="n" x="3564" y="948" width="148" height="64" rx="6"/><text class="c" x="3638" y="968"><tspan x="3638">Escritura pública,</tspan><tspan x="3638" dy="17">inscrita en el</tspan><tspan x="3638" dy="17">Registro mercantill</tspan></text></g>
<g id="n89"><rect class="n" x="3811" y="1035" width="109" height="61" rx="6"/><text class="c" x="3865.5" y="1053.5"><tspan x="3865.5">Capital social</tspan><tspan x="3865.5" dy="17">mínimo:</tspan><tspan x="3865.5" dy="17">3000 Euros</tspan></text></g>
<g id="n90"><rect class="n" x="4083" y="969" width="172" height="46" rx="6"/><text class="c" x="4169" y="988.5"><tspan x="4169">Capital social dividido</tspan><tspan x="4169" dy="17">en participaciones</tspan></text></g>
<g id="n91"><rect class="n" x="4028" y="1063" width="189" height="61" rx="6"/><text class="c" x="4122.5" y="1081.5"><tspan x="4122.5">Responsabilidad limitada</tspan><tspan x="4122.5" dy="17">de los socios al</tspan><tspan x="4122.5" dy="17">capital aportado</tspan></text></g>
<g id="n92"><rect class="n" x="4770" y="321" width="353" height="99" rx="6"/><text class="l" x="4778" y="341.5"><tspan x="4778">Si transcurridos 6 meses desde su constitución</tspan><tspan x="4778" dy="17">como unipersonal, sin que esta circunstancia se</tspan><tspan x="4778" dy="17">inscriba en el Registro Mercantil, el socio único</tspan><tspan x="4778" dy="17">responderá personal, solidaria e ilimitadamente</tspan><tspan x="4778" dy="17">por las deudas de la Sociedad.</tspan></text></g>
<g id="n93"><rect class="n" x="4947" y="655" width="206" height="62" rx="6"/><text class="c" x="5050" y="674"><tspan x="5050">Ha de hacerse constar</tspan><tspan x="5050" dy="17">expresamente su condición</tspan><tspan x="5050" dy="17">de unipersonal</tspan></text></g>
<g id="n94"><rect class="n" x="4190" y="851" width="119" height="77" rx="6"/><text class="c" x="4249.5" y="869"><tspan x="4249.5">Figura de la</tspan><tspan x="4249.5" dy="17">SOCIEDAD</tspan><tspan x="4249.5" dy="17">UNIPERSONAL</tspan><tspan x="4249.5" dy="17">LIMITADA</tspan></text></g>
<g id="n95"><rect class="n" x="4509" y="1038" width="86" height="26" rx="6"/><text class="c" x="4552" y="1056">Dinerarias</text></g>
<g id="n96"><rect class="n" x="4497" y="1150" width="108" height="26" rx="6"/><text class="c" x="4551" y="1168">No dinerarias</text></g>
<g id="n97"><rect class="n" x="4681" y="1190" width="148" height="42" rx="6"/><text class="c" x="4755" y="1207.5"><tspan x="4755">Si no hay conseno</tspan><tspan x="4755" dy="17">sobre su valor</tspan></text></g>
<g id="n98"><rect class="n" x="5049" y="1182" width="174" height="46" rx="6"/><text class="c" x="5136" y="1201.5"><tspan x="5136">Informe de un experto</tspan><tspan x="5136" dy="17">independiente</tspan></text></g>
<g id="n99"><rect class="n" x="4623" y="1295" width="220" height="62" rx="6"/><text class="c" x="4733" y="1314"><tspan x="4733">Si hay consenso sobre</tspan><tspan x="4733" dy="17">su valor se exime al</tspan><tspan x="4733" dy="17">aportante de responsabilidad</tspan></text></g>
<g id="n100"><rect class="n" x="5157" y="1282" width="134" height="42" rx="6"/><text class="c" x="5224" y="1299.5"><tspan x="5224">Responsabilidad</tspan><tspan x="5224" dy="17">solidaria</tspan></text></g>
<g id="n101"><rect class="n" x="5081" y="1372" width="216" height="62" rx="6"/><text class="c" x="5189" y="1391"><tspan x="5189">Si hay un voto particular,</tspan><tspan x="5189" dy="17">en contra, y se hace constar</tspan><tspan x="5189" dy="17">en el acta, no responderá</tspan></text></g>
<g id="n102"><rect class="n" x="4024" y="1236" width="208" height="46" rx="6"/><text class="c" x="4128" y="1255.5"><tspan x="4128">Quiebra del sistema</tspan><tspan x="4128" dy="17">de responsabilidad limitada</tspan></text></g>
<g id="n103"><rect class="n" x="3531" y="1123" width="220" height="144" rx="6"/><text class="l" x="3539" y="1140.5"><tspan x="3539">- La identidad de los socios</tspan><tspan x="3539" dy="17">- La voluntad de constituirse</tspan><tspan x="3539" dy="17">como SL</tspan><tspan x="3539" dy="17">- Aportación de los socios</tspan><tspan x="3539" dy="17">- Estatutos de la sociedad</tspan><tspan x="3539" dy="17">- Modo de administración de</tspan><tspan x="3539" dy="17">la sociedad</tspan><tspan x="3539" dy="17">-Pactos o condiciones</tspan></text></g>
<g id="n104"><rect class="n" x="3850" y="1231" width="109" height="46" rx="6"/><text class="c" x="3904.5" y="1250.5"><tspan x="3904.5">AMPLIACIÓN</tspan><tspan x="3904.5" dy="17">DE CAPITAL</tspan></text></g>
<g id="n105"><rect class="sh" x="3708" y="1359" width="220" height="57" rx="6"/><rect class="y" x="3703" y="1354" width="220" height="57" rx="6"/><text class="c bi" x="3813" y="1387.5">SOCIEDAD ANÓNIMA</text></g>
<g id="n106"><rect class="n" x="4156" y="1385" width="371" height="80" rx="6"/><text class="l" x="4164" y="1404.5"><tspan x="4164">· Deberá figurar la indicación sociedad anónima o</tspan><tspan x="4164" dy="17">la abreviatura SA.</tspan><tspan x="4164" dy="17">· No podrá adoptarse una denominación idéntica a</tspan><tspan x="4164" dy="17">otra sociedad preexistente.</tspan></text></g>
<g id="n107"><rect class="n" x="3697" y="1531" width="260" height="114" rx="6"/><text class="l" x="3705" y="1550.5"><tspan x="3705">1)Sociedad mercantil.</tspan><tspan x="3705" dy="17">2)Sociedad capitalista.</tspan><tspan x="3705" dy="17">3)Sociedad por acciones.</tspan><tspan x="3705" dy="17">4)Sociedad en la que los socios</tspan><tspan x="3705" dy="17">tienen su responsabilidad limitada</tspan><tspan x="3705" dy="17">a las aportaciones efectuadas.</tspan></text></g>
<g id="n108"><rect class="n" x="4302" y="1509" width="237" height="47" rx="6"/><text class="c" x="4420.5" y="1529"><tspan x="4420.5">Mediante escritura pública</tspan><tspan x="4420.5" dy="17">inscrita en el Registro Mercantil</tspan></text></g>
<g id="n109"><rect class="n" x="4751" y="1468" width="162" height="46" rx="6"/><text class="c" x="4832" y="1487.5"><tspan x="4832">La SA adquirirá su</tspan><tspan x="4832" dy="17">personalidad jurídica</tspan></text></g>
<g id="n110"><rect class="n" x="4746" y="1556" width="168" height="27" rx="6"/><text class="c" x="4830" y="1574.5">Publicada en el BORM</text></g>
<g id="n111"><rect class="sh2" x="4306" y="1606" width="89" height="43" rx="6"/><rect class="n" x="4303" y="1603" width="89" height="43" rx="6"/><text class="c b" x="4347.5" y="1621"><tspan x="4347.5">JUNTA</tspan><tspan x="4347.5" dy="17">GENERAL</tspan></text></g>
<g id="n112"><rect class="n" x="4768" y="1632" width="172" height="80" rx="6"/><text class="c" x="4854" y="1651.5"><tspan x="4854">deciden por mayoría</tspan><tspan x="4854" dy="17">en los asuntos propios</tspan><tspan x="4854" dy="17">de la competencia</tspan><tspan x="4854" dy="17">de la junta</tspan></text></g>
<g id="n113"><rect class="n" x="4730" y="1769" width="256" height="31" rx="6"/><text class="c" x="4858" y="1789.5">Impugnación de acuerdos sociales</text></g>
<g id="n114"><rect class="n" x="5306" y="1739" width="212" height="95" rx="6"/><text class="c" x="5412" y="1757.5"><tspan x="5412">Acuerdos de las juntas que</tspan><tspan x="5412" dy="17">sean contrarios a la Ley, se</tspan><tspan x="5412" dy="17">opongan a los Estatutos o</tspan><tspan x="5412" dy="17">lesionesn los intereses de la</tspan><tspan x="5412" dy="17">sociedad.</tspan></text></g>
<g id="n115"><rect class="sh2" x="4093" y="1783" width="174" height="27" rx="6"/><rect class="n" x="4090" y="1780" width="174" height="27" rx="6"/><text class="c b" x="4177" y="1798.5">ADMINISTRADORES</text></g>
<g id="n116"><rect class="sh2" x="4773" y="1912" width="160" height="43" rx="6"/><rect class="n" x="4770" y="1909" width="160" height="43" rx="6"/><text class="c b" x="4850" y="1927"><tspan x="4850">CONSEJO DE</tspan><tspan x="4850" dy="17">ADMINISTRACIÓN</tspan></text></g>
<g id="n117"><rect class="n" x="4973" y="2088" width="318" height="47" rx="6"/><text class="c" x="5132" y="2108"><tspan x="5132">La administración se confíe conjuntamente</tspan><tspan x="5132" dy="17">a más de 2 personas.</tspan></text></g>
<g id="n118"><rect class="n" x="4485" y="1991" width="237" height="29" rx="6"/><text class="c" x="4603.5" y="2010.5">Corresponde a la Junta General</text></g>
<g id="n119"><rect class="n" x="4443" y="2109" width="228" height="26" rx="6"/><text class="c" x="4557" y="2127">No es necesario ser accionista</text></g>
<g id="n120"><rect class="n" x="4379" y="2327" width="366" height="80" rx="6"/><text class="c" x="4562" y="2346.5"><tspan x="4562">Están obligados a formular las cuentas anuales,</tspan><tspan x="4562" dy="17">el informe de gestión y la propuesta de aplicación</tspan><tspan x="4562" dy="17">del resultado, así como las cuentas y el informe</tspan><tspan x="4562" dy="17">de gestión consolidados.</tspan></text></g>
<g id="n121"><rect class="n" x="5144" y="2353" width="158" height="26" rx="6"/><text class="c" x="5223" y="2371">Por la Junta General</text></g>
<g id="n122"><rect class="n" x="3036" y="1101" width="182" height="96" rx="6"/><text class="c" x="3127" y="1120"><tspan x="3127">Debe soportarlas</tspan><tspan x="3127" dy="17">en la forma prevista</tspan><tspan x="3127" dy="17">en el contrato y en su</tspan><tspan x="3127" dy="17">defecto a prorrata de</tspan><tspan x="3127" dy="17">su participación en el K'</tspan></text></g>
<g id="n123"><rect class="n" x="2802" y="1274" width="75" height="26" rx="6"/><text class="c" x="2839.5" y="1292">Pérdidas</text></g>
<g id="n124"><rect class="n" x="3165" y="1227" width="206" height="46" rx="6"/><text class="c" x="3268" y="1246.5"><tspan x="3268">No le alcanzan las pérdidas</tspan><tspan x="3268" dy="17">más allá de su aportación</tspan></text></g>
<g id="n125"><rect class="n" x="2747" y="1355" width="129" height="28" rx="6"/><text class="c" x="2811.5" y="1374">Responsabilidad</text></g>
<g id="n126"><rect class="n" x="3110" y="1297" width="239" height="62" rx="6"/><text class="c" x="3229.5" y="1316"><tspan x="3229.5">Quedan obligados personal y</tspan><tspan x="3229.5" dy="17">solidariamente a las resultas de</tspan><tspan x="3229.5" dy="17">las operaciones de la sociedad</tspan></text></g>
<g id="n127"><rect class="n" x="3114" y="1387" width="224" height="62" rx="6"/><text class="c" x="3226" y="1406"><tspan x="3226">Queda limitada a los fondos</tspan><tspan x="3226" dy="17">que pusieron o se obligaron a</tspan><tspan x="3226" dy="17">poner en la comandita</tspan></text></g>
<g id="n128"><rect class="n" x="2752" y="1502" width="124" height="30" rx="6"/><text class="c" x="2814" y="1522">Representación</text></g>
<g id="n129"><rect class="n" x="3100" y="1481" width="396" height="80" rx="6"/><text class="c" x="3298" y="1500"><tspan x="3298">La administración puede encomendarse a todos</tspan><tspan x="3298" dy="17">los socios o reservarse a una parte de ellos,</tspan><tspan x="3298" dy="17">si nada se dice (no hay pacto) corresponderá a todos.</tspan></text></g>
<g id="n130"><rect class="n" x="2777" y="1639" width="364" height="113" rx="6"/><text class="l" x="2785" y="1658"><tspan x="2785">Están excluidos de la gestión y representación de</tspan><tspan x="2785" dy="17">la sociedad, ni siquiera pueden actuar como</tspan><tspan x="2785" dy="17">apoderados de los socios gestores, aunque</tspan><tspan x="2785" dy="17">ad intra pueden participar en la gestión de la</tspan><tspan x="2785" dy="17">sociedad, teniendo derecho a participar en las</tspan><tspan x="2785" dy="17">deliberaciones de los socios.</tspan></text></g>
<g id="n131"><rect class="sh2" x="3242" y="1715" width="119" height="27" rx="6"/><rect class="n" x="3239" y="1712" width="119" height="27" rx="6"/><text class="c b" x="3298.5" y="1730.5">PATRIMONIO</text></g>
<g id="n132"><rect class="sh2" x="3420" y="1708" width="162" height="43" rx="6"/><rect class="n" x="3417" y="1705" width="162" height="43" rx="6"/><text class="c b" x="3498" y="1723"><tspan x="3498">CIFRA DE CAPITAL</tspan><tspan x="3498" dy="17">SOCIAL</tspan></text></g>
<g id="n133"><rect class="n" x="3783" y="1688" width="158" height="47" rx="6"/><text class="c" x="3862" y="1708"><tspan x="3862">un <tspan class="b">capital mínimo</tspan></tspan><tspan x="3862" dy="17">de 60.101, 21 euros</tspan></text></g>
<g id="n134"><rect class="n" x="3703" y="1758" width="270" height="46" rx="6"/><text class="c u" x="3838" y="1777.5"><tspan x="3838">la suma de valores nominales</tspan><tspan x="3838" dy="17">de las acciones en que esta dividido</tspan></text></g>
<g id="n135"><rect class="n" x="3710" y="1836" width="226" height="61" rx="6"/><text class="c" x="3823" y="1854.5"><tspan x="3823">carácter estable y constante,</tspan><tspan x="3823" dy="17">y ha de mantenerse a lo largo</tspan><tspan x="3823" dy="17">de la vida social</tspan></text></g>
<g id="n136"><rect class="n" x="2926" y="1804" width="174" height="64" rx="6"/><text class="c u" x="3013" y="1824"><tspan x="3013">concepto económico</tspan><tspan x="3013" dy="17">que alude a los bienes</tspan><tspan x="3013" dy="17">y obligaciones</tspan></text></g>
<g id="n137"><rect class="n" x="2903" y="1895" width="288" height="78" rx="6"/><text class="c" x="3047" y="1913.5"><tspan x="3047">carácter oscilante en función</tspan><tspan x="3047" dy="17">de los resultados positivos o negativos</tspan><tspan x="3047" dy="17">de los actos y operaciones que se</tspan><tspan x="3047" dy="17">realizan.</tspan></text></g>
<g id="n138"><rect class="sh2" x="3337" y="1902" width="315" height="41" rx="6"/><rect class="n" x="3334" y="1899" width="315" height="41" rx="6"/><text class="c b" x="3491.5" y="1924.5">APORTACIONES DE LOS SOCIOS</text></g>
<g id="n139"><rect class="n" x="3754" y="1951" width="188" height="44" rx="6"/><text class="c" x="3848" y="1969.5"><tspan x="3848">escritura de constitución</tspan><tspan x="3848" dy="17">de la sociedad</tspan></text></g>
<g id="n140"><rect class="sh2" x="3084" y="2050" width="150" height="42" rx="6"/><rect class="n" x="3081" y="2047" width="150" height="42" rx="6"/><text class="c bi" x="3156" y="2064.5"><tspan x="3156">APORTACIONES</tspan><tspan x="3156" dy="17">DINERARIAS</tspan></text></g>
<g id="n141"><rect class="sh2" x="3443" y="2048" width="150" height="41" rx="6"/><rect class="n" x="3440" y="2045" width="150" height="41" rx="6"/><text class="c bi" x="3515" y="2062"><tspan x="3515">APORTACIONES</tspan><tspan x="3515" dy="17">NO DINERARIAS</tspan></text></g>
<g id="n142"><rect class="n" x="3439" y="2155" width="132" height="59" rx="6"/><text class="c" x="3505" y="2172.5"><tspan x="3505">INFORME DE</tspan><tspan x="3505" dy="17">EXPERTO</tspan><tspan x="3505" dy="17">INDEPENDIENTE</tspan></text></g>
<g id="n143"><rect class="n" x="3068" y="2176" width="176" height="46" rx="6"/><text class="c" x="3156" y="2195.5"><tspan x="3156">aportaciones de dinero</tspan><tspan x="3156" dy="17">(las más comunes)</tspan></text></g>
<g id="n144"><rect class="n" x="3773" y="2185" width="270" height="80" rx="6"/><text class="c" x="3908" y="2204.5"><tspan x="3908" class="b">bienes y derechos patrimoniales</tspan><tspan x="3908" dy="17">susceptibles de valoración</tspan><tspan x="3908" dy="17">económica</tspan><tspan x="3908" dy="17">(se excluyen trabajo y servicios)</tspan></text></g>
<g id="n145"><rect class="n" x="3796" y="2374" width="228" height="80" rx="6"/><text class="c" x="3910" y="2393.5"><tspan x="3910">limita la responsabilidad</tspan><tspan x="3910" dy="17">de los socios que responderán</tspan><tspan x="3910" dy="17">por riesgo o deterioro de la</tspan><tspan x="3910" dy="17">cosa aportada</tspan></text></g>
<g id="n146"><rect class="n" x="3545" y="2543" width="196" height="96" rx="6"/><text class="c" x="3643" y="2562"><tspan x="3643">si se aporta <tspan class="b">bienes</tspan></tspan><tspan x="3643" dy="17" class="b">muebles o inmuebles</tspan><tspan x="3643" dy="17">responderá de la pérdida</tspan><tspan x="3643" dy="17">o deterioro de la cosa</tspan><tspan x="3643" dy="17">hasta su entrega</tspan></text></g>
<g id="n147"><rect class="n" x="3808" y="2616" width="199" height="95" rx="6"/><text class="c" x="3907.5" y="2634.5"><tspan x="3907.5">si es un <tspan class="b">derecho</tspan></tspan><tspan x="3907.5" dy="17"><tspan class="b">de crédito</tspan> el socio</tspan><tspan x="3907.5" dy="17">responderá de la</tspan><tspan x="3907.5" dy="17">legitimación del mismo y</tspan><tspan x="3907.5" dy="17">de la solvencia del deudor</tspan></text></g>
<g id="n148"><rect class="n" x="4089" y="2527" width="224" height="115" rx="6"/><text class="c" x="4201" y="2547"><tspan x="4201">si es una <tspan class="b">empresa o</tspan></tspan><tspan x="4201" dy="17"><tspan class="b">establecimiento</tspan> será</tspan><tspan x="4201" dy="17">responsable del saneamiento</tspan><tspan x="4201" dy="17">por vicioo evicción cuando</tspan><tspan x="4201" dy="17">hacen imposible su</tspan><tspan x="4201" dy="17">normal explotación</tspan></text></g>
<g id="n149"><rect class="n" x="3082" y="2397" width="178" height="94" rx="6"/><text class="c" x="3171" y="2415"><tspan x="3171">garantia para terceros</tspan><tspan x="3171" dy="17">y demas accionistas en</tspan><tspan x="3171" dy="17">aplicación del principio</tspan><tspan x="3171" dy="17">de realidad del capital</tspan><tspan x="3171" dy="17">social</tspan></text></g>
<g id="n150"><rect class="n" x="3082" y="2543" width="374" height="80" rx="6"/><text class="l" x="3090" y="2562.5"><tspan x="3090">1) Descripción de las aportaciones no dinerarias.</tspan><tspan x="3090" dy="17">2) Criterios de valoración.</tspan><tspan x="3090" dy="17">3) Indicación de si el valor obtenido es suficiente</tspan><tspan x="3090" dy="17">para cubrir el precio al que se emiten las acciones.</tspan></text></g>
<g id="n151"><rect class="n" x="3556" y="2388" width="161" height="29" rx="6"/><text class="c" x="3636.5" y="2407.5">registrador mercantil</text></g>
</g>
</svg>
